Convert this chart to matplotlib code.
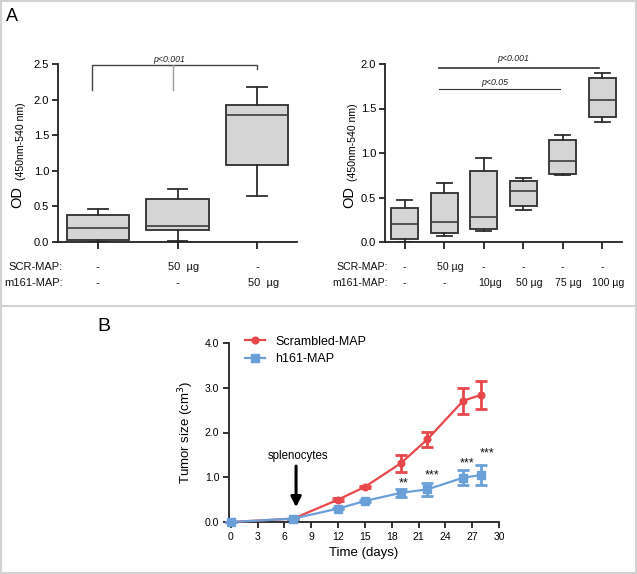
import matplotlib
matplotlib.use('Agg')
import matplotlib.pyplot as plt
from matplotlib import font_manager
from matplotlib.lines import Line2D
import matplotlib.transforms as mtransforms

names = {f.name for f in font_manager.fontManager.ttflist}
NARROW = 'Liberation Sans Narrow' if 'Liberation Sans Narrow' in names else 'Liberation Sans'
IS_NARROW = NARROW == 'Liberation Sans Narrow'
plt.rcParams['font.family'] = ['Liberation Sans', 'DejaVu Sans']

# ---------------- data ----------------
# Panel A left
left_whislo = [0.00, 0.02, 0.64]
left_q1 = [0.03, 0.17, 1.08]
left_med = [0.19, 0.23, 1.78]
left_q3 = [0.38, 0.60, 1.93]
left_whishi = [0.47, 0.75, 2.18]
left_scr = ['-', '50  µg', '-']
left_m161 = ['-', '-', '50  µg']
left_yticks = [0.0, 0.5, 1.0, 1.5, 2.0, 2.5]

# Panel A right
right_whislo = [0.00, 0.07, 0.125, 0.365, 0.75, 1.345]
right_q1 = [0.03, 0.105, 0.15, 0.41, 0.76, 1.40]
right_med = [0.20, 0.225, 0.28, 0.57, 0.91, 1.60]
right_q3 = [0.38, 0.556, 0.80, 0.68, 1.15, 1.84]
right_whishi = [0.47, 0.66, 0.94, 0.72, 1.20, 1.90]
right_scr = ['-', '50 µg', '-', '-', '-', '-']
right_m161 = ['-', '-', '10µg', '50 µg', '75 µg', '100 µg']
right_yticks = [0.0, 0.5, 1.0, 1.5, 2.0]

row_labels = ['SCR-MAP:', 'm161-MAP:']

# Panel B
days = [0, 7, 12, 15, 19, 22, 26, 28]
scr_mean = [0.0, 0.075, 0.50, 0.785, 1.31, 1.85, 2.71, 2.84]
scr_err = [0.0, 0.0, 0.03, 0.03, 0.19, 0.17, 0.29, 0.31]
h161_mean = [0.0, 0.075, 0.30, 0.47, 0.65, 0.73, 0.99, 1.05]
h161_err = [0.0, 0.0, 0.02, 0.03, 0.09, 0.14, 0.17, 0.22]
star_days = [19.3, 22.5, 26.4, 28.7]
star_y = [0.87, 1.05, 1.31, 1.54]
star_txt = ['**', '***', '***', '***']
xticks_b = list(range(0, 31, 3))
yticks_b = [0.0, 1.0, 2.0, 3.0, 4.0]

W, H = 637, 574
fig = plt.figure(figsize=(W / 100, H / 100), dpi=100)


def rect(x0, y0, x1, y1):
    return [x0 / W, 1 - y1 / H, (x1 - x0) / W, (y1 - y0) / H]


def fpt(x, y):
    return (x / W, 1 - y / H)


# borders
border_col = '#d2d2d2'
fig.add_artist(Line2D([1 / W, 1 / W], [0, 1], color=border_col, lw=1.5))
fig.add_artist(Line2D([635.5 / W, 635.5 / W], [0, 1], color=border_col, lw=1.5))
fig.add_artist(Line2D([0, 1], [1 - 1 / H, 1 - 1 / H], color=border_col, lw=1.5))
fig.add_artist(Line2D([0, 1], [1 - 572.5 / H, 1 - 572.5 / H], color=border_col, lw=1.5))
fig.add_artist(Line2D([0, 1], [1 - 306 / H, 1 - 306 / H], color=border_col, lw=1.5))

fig.text(*fpt(6, 21), 'A', fontsize=13, ha='left', va='baseline')
fig.text(*fpt(97, 331), 'B', fontsize=14, ha='left', va='baseline')

SP = '#222222'
BOXFACE = '#d5d5d5'
BOXEDGE = '#2e2e2e'
TICKFS = 8.5 if IS_NARROW else 8


def style_boxaxes(ax, n, yticks):
    for s in ['top', 'right']:
        ax.spines[s].set_visible(False)
    for s in ['left', 'bottom']:
        ax.spines[s].set_color(SP)
        ax.spines[s].set_linewidth(1.3)
    ax.set_xlim(-0.5, n - 0.5)
    ax.set_ylim(0, yticks[-1])
    ax.set_yticks(yticks)
    ax.set_yticklabels([f'{v:.1f}' for v in yticks], fontfamily=NARROW, fontsize=TICKFS)
    ax.set_xticks(range(n))
    ax.set_xticklabels([''] * n)
    ax.tick_params(axis='y', direction='out', length=4.5, width=1.3, color=SP, pad=2)
    ax.tick_params(axis='x', direction='out', length=5, width=1.3, color=SP)


def draw_boxes(ax, whislo, q1, med, q3, whishi, width, capw):
    stats = [dict(whislo=a, q1=b, med=c, q3=d, whishi=e, fliers=[])
             for a, b, c, d, e in zip(whislo, q1, med, q3, whishi)]
    ax.bxp(stats, positions=list(range(len(stats))), widths=width, patch_artist=True,
           showfliers=False, capwidths=capw, manage_ticks=False,
           boxprops=dict(facecolor=BOXFACE, edgecolor=BOXEDGE, linewidth=1.3),
           medianprops=dict(color='#3c3c3c', linewidth=1.2),
           whiskerprops=dict(color=BOXEDGE, linewidth=1.3),
           capprops=dict(color=BOXEDGE, linewidth=1.3))


def row_texts(ax, scr, m161, label_x, fs_lab, shift_px):
    trans = mtransforms.blended_transform_factory(ax.transData, ax.transAxes)
    shift = mtransforms.offset_copy(trans, fig=fig, x=shift_px, y=0, units='dots')
    for row_y, lab, vals in [(-0.14, row_labels[0], scr), (-0.23, row_labels[1], m161)]:
        ax.text(label_x, row_y, lab, transform=trans, ha='right', va='center',
                fontfamily=NARROW, fontsize=fs_lab, color='#111111', clip_on=False)
        for i, v in enumerate(vals):
            ax.text(i, row_y, v, transform=shift if 'µg' in v else trans, ha='center',
                    va='center', fontfamily=NARROW, fontsize=fs_lab, color='#111111',
                    clip_on=False)


PARFS = 7.5 if IS_NARROW else 7.6

# ---------------- Panel A left ----------------
axL = fig.add_axes(rect(58, 64, 297, 242))
draw_boxes(axL, left_whislo, left_q1, left_med, left_q3, left_whishi, 0.78, 0.25)
style_boxaxes(axL, 3, left_yticks)
axL.plot([-0.07, -0.07, 2.0, 2.0], [2.14, 2.48, 2.48, 2.43], color='#444444', lw=1.0,
         clip_on=False, solid_joinstyle='miter')
axL.plot([0.94, 0.94], [2.14, 2.48], color='#9a9a9a', lw=1.0, clip_on=False)
axL.text(0.89, 2.57, 'p<0.001', style='italic', fontsize=6.3, ha='center', va='center',
         color='#222222')
row_texts(axL, left_scr, left_m161, -0.44, 9.5 if IS_NARROW else 8, 6)

fig.text(*fpt(17, 197), 'OD', rotation=90, fontsize=10.5, ha='center', va='center')
fig.text(*fpt(21, 141), '(450nm-540 nm)', rotation=90, fontsize=PARFS,
         ha='center', va='center', fontfamily=NARROW)

# ---------------- Panel A right ----------------
axR = fig.add_axes(rect(385, 64, 622, 242))
draw_boxes(axR, right_whislo, right_q1, right_med, right_q3, right_whishi, 0.68, 0.38)
style_boxaxes(axR, 6, right_yticks)
axR.plot([0.87, 4.93], [1.95, 1.95], color='#333333', lw=1.2, clip_on=False)
axR.plot([0.87, 3.92], [1.72, 1.72], color='#333333', lw=0.8, clip_on=False)
axR.text(2.75, 2.06, 'p<0.001', style='italic', fontsize=6.3, ha='center', va='center',
         color='#222222')
axR.text(2.29, 1.79, 'p<0.05', style='italic', fontsize=6.3, ha='center', va='center',
         color='#222222')
row_texts(axR, right_scr, right_m161, -0.42, 9 if IS_NARROW else 7.6, 6)

fig.text(*fpt(349, 197), 'OD', rotation=90, fontsize=10.5, ha='center', va='center')
fig.text(*fpt(353, 142), '(450nm-540 nm)', rotation=90, fontsize=PARFS,
         ha='center', va='center', fontfamily=NARROW)

# ---------------- Panel B ----------------
RED = '#e8474b'
BLUE = '#6a9fd8'
axB = fig.add_axes(rect(229, 343, 499, 522))
for s in ['top', 'right']:
    axB.spines[s].set_visible(False)
for s in ['left', 'bottom']:
    axB.spines[s].set_color(SP)
    axB.spines[s].set_linewidth(1.3)
axB.set_xlim(-0.2, 30)
axB.set_ylim(0, 4.0)
axB.set_xticks(xticks_b)
axB.set_xticklabels([str(v) for v in xticks_b], fontsize=7.5)
axB.set_yticks(yticks_b)
axB.set_yticklabels([f'{v:.1f}' for v in yticks_b], fontsize=7.5)
axB.tick_params(direction='out', length=4, width=1.3, color=SP, pad=3)

e1 = axB.errorbar(days, scr_mean, yerr=scr_err, color=RED, marker='o', markersize=4.8,
                  lw=1.6, elinewidth=2.0, capsize=4, capthick=2.0, clip_on=False, zorder=3)
e2 = axB.errorbar(days, h161_mean, yerr=h161_err, color=BLUE, marker='s', markersize=5.5,
                  lw=1.6, elinewidth=2.0, capsize=4, capthick=2.0, clip_on=False, zorder=4)
for c in (e1, e2):
    for a in list(c.lines[1]) + list(c.lines[2]):
        a.set_clip_on(False)

for d, y, t in zip(star_days, star_y, star_txt):
    axB.text(d, y, t, ha='center', va='center', fontsize=9, color='#111111')

axB.annotate('', xy=(7.3, 0.33), xytext=(7.3, 1.25),
             arrowprops=dict(arrowstyle='-|>,head_width=0.3,head_length=0.6', color='black',
                             lw=2.2, shrinkA=0, shrinkB=0))
axB.text(7.5, 1.47, 'splenocytes', ha='center', va='center', fontsize=8.3)

axB.set_xlabel('Time (days)', fontsize=9.5, labelpad=4)
axB.set_ylabel('Tumor size (cm$^3$)', fontsize=9.5, labelpad=6)

axB.legend([e1.lines[0], e2.lines[0]], ['Scrambled-MAP', 'h161-MAP'], loc='upper left',
           bbox_to_anchor=(0.06, 1.04), frameon=False, fontsize=9, handlelength=1.6,
           handletextpad=0.8, borderpad=0, borderaxespad=0, labelspacing=0.45)

fig.savefig('out.png', dpi=100)
